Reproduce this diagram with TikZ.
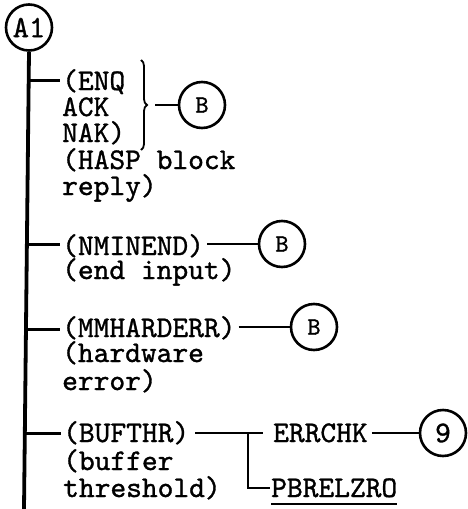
\documentclass[tikz,border=0pt]{standalone}
\usepackage{fontspec}
\newfontfamily\tw{lmmono10-regular.otf}[FakeBold=1.1]
\usetikzlibrary{decorations.pathreplacing,calc}
\begin{document}
\begin{tikzpicture}[x=1pt,y=-1pt,
  conn/.style={circle,draw,line width=2.6pt,minimum size=46pt,inner sep=0pt,font=\tw\fontsize{25}{25}\selectfont},
  lbl/.style={anchor=base west,inner sep=0pt,text height=18pt,text depth=4pt,font=\tw\fontsize{30}{30}\selectfont},
  wire/.style={line width=2.8pt},
  trunk/.style={line width=3.8pt},
  bracestyle/.style={decorate,decoration={brace,amplitude=6pt},line width=1.8pt}]
\useasboundingbox (0,0) rectangle (467,509);
% connectors (circles)
\node[conn,font=\tw\fontsize{31}{31}\selectfont] (A1) at (29,27.5) {A1};
\node[conn] (B1) at (202,105) {B};
\node[conn] (B2) at (282,244) {B};
\node[conn] (B3) at (314,327) {B};
\node[conn,font=\tw\fontsize{30}{30}\selectfont] (nine) at (443,433) {9};
% texts
\node[lbl] (enq) at (62,90) {(ENQ};
\node[lbl] (ack) at (62,116) {ACK};
\node[lbl] (nak) at (62,142) {NAK)};
\node[lbl] (hasp) at (62,169) {(HASP block};
\node[lbl] (reply) at (62,195) {reply)};
\node[lbl] (nmi) at (62,255) {(NMINEND)};
\node[lbl] (endin) at (62,279) {(end input)};
\node[lbl] (mmh) at (62,337) {(MMHARDERR)};
\node[lbl] (hw) at (62,362) {(hardware};
\node[lbl] (err) at (62,390) {error)};
\node[lbl] (buf) at (63,442) {(BUFTHR)};
\node[lbl] (bufr) at (63,470) {(buffer};
\node[lbl] (thr) at (63,497) {threshold)};
\node[lbl] (errchk) at (273,442) {ERRCHK};
\node[lbl] (pbr) at (271,497) {PBRELZRO};
% trunk
\coordinate (bot) at (24,509);
\draw[trunk] (A1.south) -- (bot);
\coordinate (j1) at ($(A1.south)!0.062!(bot)$);
\coordinate (j2) at ($(A1.south)!0.422!(bot)$);
\coordinate (j3) at ($(A1.south)!0.607!(bot)$);
\coordinate (j4) at ($(A1.south)!0.834!(bot)$);
% branches
\draw[wire] (j1) -- ($(j1 -| enq.west)+(-2,0)$);
\draw[wire] (j2) -- ($(j2 -| nmi.west)+(-2,0)$);
\draw[wire] (j3) -- ($(j3 -| mmh.west)+(-2,0)$);
\draw[wire] (j4) -- ($(j4 -| buf.west)+(-2,0)$);
% brace group
\coordinate (brtop) at (141,60);
\coordinate (brbot) at (141,150);
\draw[bracestyle] (brtop) -- (brbot);
\coordinate (brtip) at (155,105);
\draw[wire] (brtip) -- (B1.west);
% to B circles
\draw[wire] ($(nmi.east |- B2.west)+(3,0)$) -- (B2.west);
\draw[wire] ($(mmh.east |- B3.west)+(3,0)$) -- (B3.west);
% BUFTHR fork
\coordinate (jn) at (248,433);
\coordinate (jr) at (263,433);
\coordinate (pbrmid) at ($(pbr.base west)+(-1,-9)$);
\draw[wire] ($(buf.east |- jn)+(6,0)$) -- (jr);
\draw[wire] (jn) -- (jn |- pbrmid) -- (pbrmid);
\draw[wire] ($(errchk.east |- nine.west)+(4,0)$) -- (nine.west);
\draw[line width=2.4pt] ($(pbr.base west)+(0,7)$) -- ($(pbr.base east)+(0,7)$);
\end{tikzpicture}
\end{document}
